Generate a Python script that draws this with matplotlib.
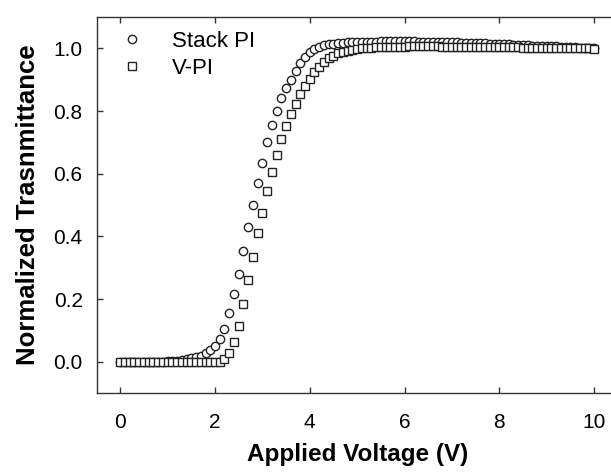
import numpy as np
import matplotlib
matplotlib.use('Agg')
import matplotlib.pyplot as plt

plt.rcParams['font.family'] = ['Liberation Sans', 'DejaVu Sans']

# 인가 전압 (0 ~ 10 V, 0.1 V 간격)
voltage = np.round(np.arange(0, 10.01, 0.1), 1)

# Stack PI 투과율
stack_pi = [
    0.000, 0.000, 0.000, 0.000, 0.000, 0.000, 0.000, 0.000, 0.000, 0.001,
    0.002, 0.003, 0.004, 0.006, 0.008, 0.011, 0.015, 0.020, 0.028, 0.038,
    0.052, 0.072, 0.105, 0.155, 0.215, 0.280, 0.355, 0.430, 0.500, 0.570,
    0.635, 0.700, 0.755, 0.800, 0.840, 0.872, 0.900, 0.927, 0.952, 0.971,
    0.987, 0.997, 1.005, 1.010, 1.013, 1.015, 1.017, 1.018, 1.019, 1.020,
    1.020, 1.020, 1.021, 1.021, 1.021, 1.022, 1.022, 1.022, 1.022, 1.022,
    1.022, 1.022, 1.022, 1.021, 1.021, 1.021, 1.021, 1.020, 1.020, 1.020,
    1.019, 1.019, 1.018, 1.018, 1.017, 1.017, 1.016, 1.016, 1.015, 1.015,
    1.014, 1.013, 1.013, 1.012, 1.011, 1.011, 1.010, 1.009, 1.009, 1.008,
    1.007, 1.007, 1.006, 1.005, 1.004, 1.004, 1.003, 1.002, 1.001, 1.001,
    1.000,
]

# V-PI 투과율
v_pi = [
    0.000, 0.000, 0.000, 0.000, 0.000, 0.000, 0.000, 0.000, 0.000, 0.000,
    0.000, 0.000, 0.000, 0.000, 0.000, 0.000, 0.000, 0.000, 0.000, 0.000,
    0.000, 0.000, 0.008, 0.028, 0.062, 0.115, 0.185, 0.260, 0.335, 0.410,
    0.475, 0.545, 0.605, 0.660, 0.710, 0.752, 0.790, 0.822, 0.853, 0.880,
    0.902, 0.925, 0.942, 0.956, 0.968, 0.976, 0.984, 0.988, 0.993, 0.996,
    0.998, 1.000, 1.001, 1.002, 1.003, 1.004, 1.005, 1.005, 1.005, 1.005,
    1.005, 1.006, 1.006, 1.006, 1.006, 1.006, 1.006, 1.006, 1.005, 1.005,
    1.005, 1.005, 1.005, 1.005, 1.004, 1.004, 1.004, 1.004, 1.004, 1.004,
    1.003, 1.003, 1.003, 1.003, 1.003, 1.002, 1.002, 1.002, 1.002, 1.002,
    1.001, 1.001, 1.001, 1.001, 1.001, 1.000, 1.000, 1.000, 1.000, 1.000,
    0.999,
]

x_ticks = [0, 2, 4, 6, 8, 10]
y_ticks = [0.0, 0.2, 0.4, 0.6, 0.8, 1.0]

fig = plt.figure(figsize=(6.11, 4.72), dpi=100)
ax = fig.add_axes([0.158, 0.167, 0.853, 0.797])

ax.plot(voltage, stack_pi, linestyle='none', marker='o', markersize=6,
        markerfacecolor='white', markeredgecolor='#222222', markeredgewidth=1,
        label='Stack PI')
ax.plot(voltage, v_pi, linestyle='none', marker='s', markersize=6,
        markerfacecolor='white', markeredgecolor='#222222', markeredgewidth=1,
        label='V-PI')

ax.set_xlim(-0.5, 10.5)
ax.set_ylim(-0.1, 1.1)
ax.set_xticks(x_ticks)
ax.set_yticks(y_ticks)
ax.set_yticklabels([f'{v:.1f}' for v in y_ticks])
ax.tick_params(direction='in', length=4, width=1, top=True, right=True,
               labelsize=15, color='#333333')
ax.tick_params(axis='x', pad=14)
ax.tick_params(axis='y', pad=10)
for s in ax.spines.values():
    s.set_linewidth(1)
    s.set_color('#333333')

ax.set_xlabel('Applied Voltage (V)', fontsize=17.5, fontweight='bold', labelpad=8)
ax.set_ylabel('Normalized Trasnmittance', fontsize=18.5, fontweight='bold', labelpad=10)

ax.legend(loc='upper left', bbox_to_anchor=(121 / 611, 1 - 31 / 472),
          bbox_transform=fig.transFigure, frameon=False, fontsize=16,
          handlelength=1, handletextpad=1.3, labelspacing=0.25,
          borderpad=0, borderaxespad=0)

fig.savefig('out.png', dpi=100)
